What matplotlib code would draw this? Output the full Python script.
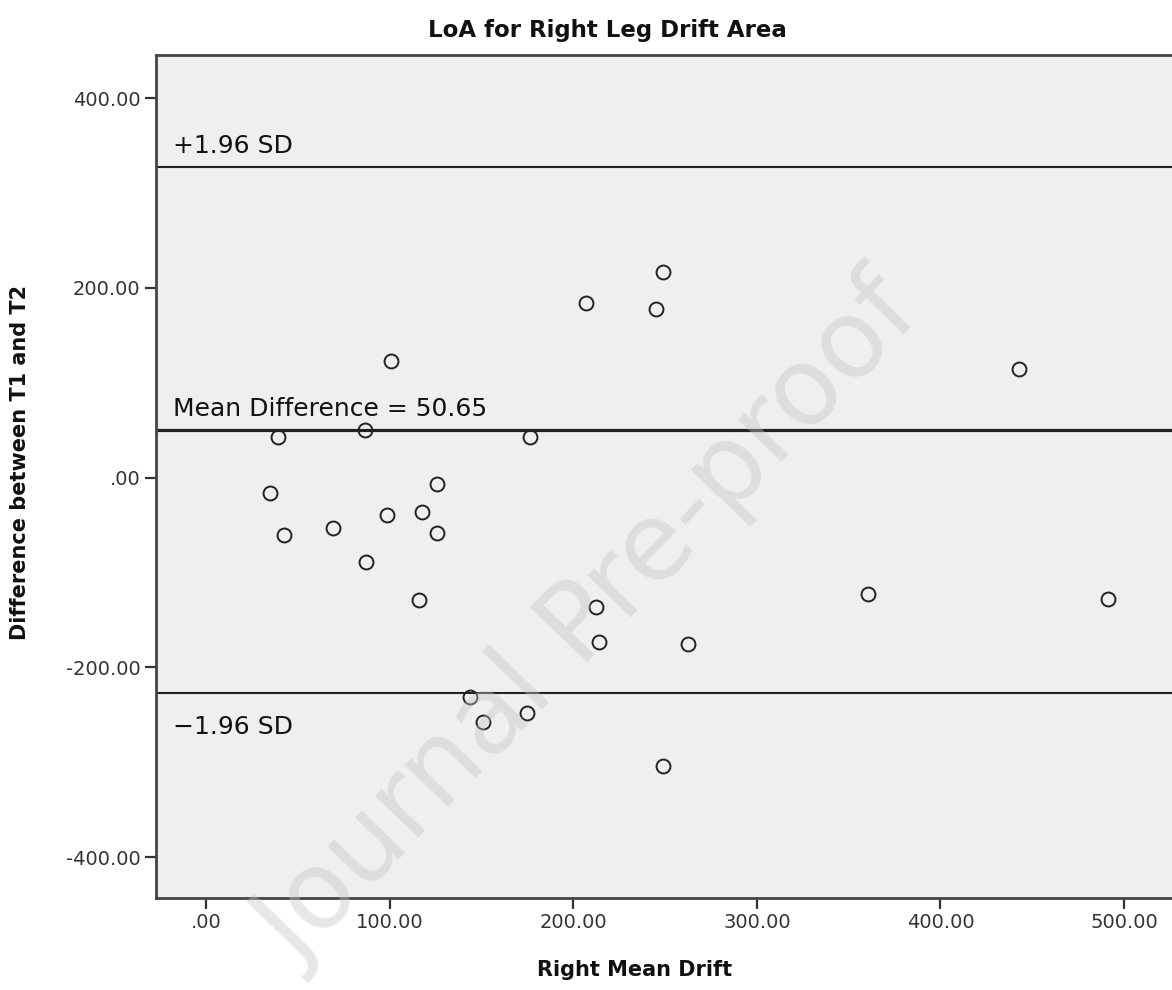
import numpy as np
import matplotlib
matplotlib.use("Agg")
import matplotlib.pyplot as plt
from matplotlib.ticker import FuncFormatter

# Bland-Altman data
mean_drift = [248.9, 206.6, 244.8, 100.5, 442.9, 39.1, 86.4, 176.3, 34.6, 125.8,
              42.2, 69.1, 98.5, 117.3, 125.8, 86.9, 115.8, 212.3, 360.5, 491.1,
              213.7, 262.6, 143.6, 150.8, 174.8, 248.9]
diff_t1_t2 = [216.9, 183.9, 177.9, 123.1, 114.4, 43.3, 50.4, 43.0, -16.3, -6.9,
              -61.0, -53.6, -39.5, -36.0, -58.5, -88.7, -128.8, -135.9, -122.5, -128.1,
              -173.1, -175.5, -231.4, -257.7, -248.2, -303.8]
mean_diff = 50.65
upper_loa = 327.95
lower_loa = -226.65
xticks = [0, 100, 200, 300, 400, 500]
yticks = [-400, -200, 0, 200, 400]

W, H = 1172, 990
fig = plt.figure(figsize=(W/100, H/100), dpi=100)
ax = fig.add_axes([156/W, 1-898/H, (W-156)/W, (898-55)/H])
ax.set_facecolor('#efefef')

ax.axhline(upper_loa, color='#222222', lw=1.5, zorder=2)
ax.axhline(lower_loa, color='#222222', lw=1.5, zorder=2)
ax.axhline(mean_diff, color='#222222', lw=2.3, zorder=2)

ax.plot(mean_drift, diff_t1_t2, 'o', ms=10, mfc='none', mec='#222222', mew=1.4, zorder=3)

lbl = dict(fontsize=18, color='#111111', xycoords=('axes fraction', 'data'),
           textcoords='offset points')
ax.annotate('+1.96 SD', xy=(0.017, upper_loa), xytext=(0, 6), va='bottom', **lbl)
ax.annotate('Mean Difference = 50.65', xy=(0.017, mean_diff), xytext=(0, 6), va='bottom', **lbl)
ax.annotate('\u22121.96 SD', xy=(0.017, lower_loa), xytext=(0, -16), va='top', **lbl)

ax.set_xlim(-27.5, 526.2)
ax.set_ylim(-443.2, 445.6)
ax.set_xticks(xticks)
ax.set_yticks(yticks)

def fmt(v, pos):
    s = '%.2f' % v
    return '.00' if v == 0 else s

ax.xaxis.set_major_formatter(FuncFormatter(fmt))
ax.yaxis.set_major_formatter(FuncFormatter(fmt))
ax.tick_params(direction='out', length=8, width=1.6, color='#333333',
               labelsize=14, labelcolor='#333333', pad=3)
for s in ['left', 'bottom', 'top']:
    ax.spines[s].set_color('#444444')
    ax.spines[s].set_linewidth(2)
ax.spines['right'].set_visible(False)

fig.text(607/W, 1-30/H, 'LoA for Right Leg Drift Area', ha='center', va='center',
         fontsize=16.5, fontweight='bold', color='#111111')
fig.text(635/W, 1-970/H, 'Right Mean Drift', ha='center', va='center',
         fontsize=15, fontweight='bold', color='#111111')
fig.text(20/W, 1-462/H, 'Difference between T1 and T2', ha='center', va='center',
         rotation=90, fontsize=15, fontweight='bold', color='#111111')

# journal watermark
fig.text(590/W, 1-622/H, 'Journal Pre-proof', ha='center', va='center', rotation=46,
         fontsize=78, color='#c4c4c4', alpha=0.4, zorder=10)

fig.savefig('out.png', dpi=100)
